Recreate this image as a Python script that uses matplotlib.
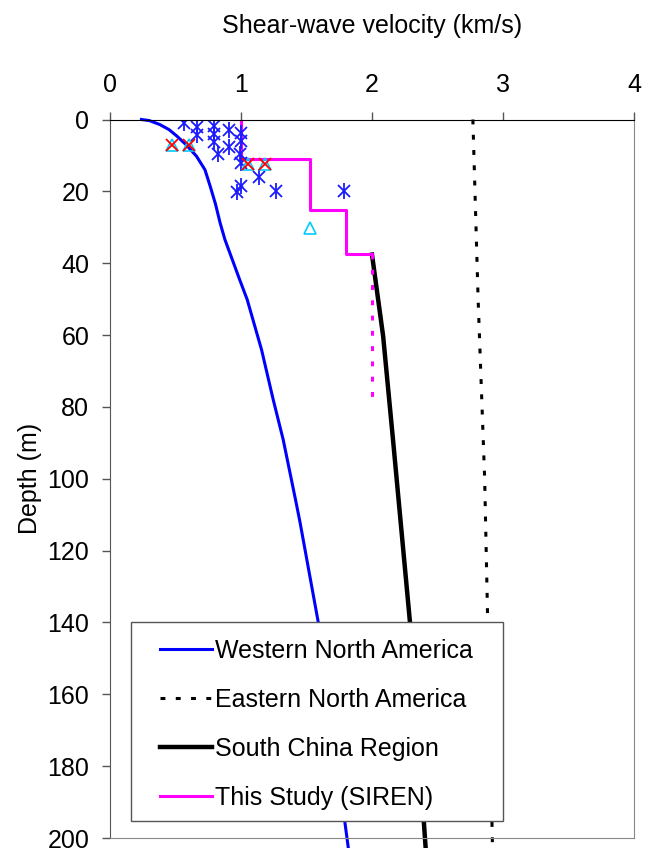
import matplotlib
matplotlib.use('Agg')
import matplotlib.pyplot as plt
from matplotlib.patches import Rectangle

plt.rcParams['font.family'] = ['Liberation Sans', 'DejaVu Sans']

# shear-wave velocity (km/s) vs depth (m)
wna_vs = [0.24, 0.30, 0.38, 0.45, 0.51, 0.58, 0.66, 0.725, 0.765, 0.805, 0.84, 0.877, 0.99, 1.047, 1.157, 1.246, 1.322, 1.416, 1.45, 1.59, 1.82]
wna_d = [0, 0.3, 1.4, 2.8, 4.6, 7.0, 10.2, 14.0, 18.6, 23.5, 28.7, 33.4, 44.6, 50.1, 64.1, 78.0, 89.1, 105.8, 112, 140, 203]

ena_vs = [2.77, 2.81, 2.86, 2.92]
ena_d = [0, 50, 100, 203]

scr_vs = [2.00, 2.085, 2.16, 2.29, 2.41]
scr_d = [37.6, 60.3, 89, 140, 203]

siren_vs = [1.0, 1.0, 1.527, 1.527, 1.80, 1.80, 2.0]
siren_d = [0, 11.0, 11.0, 25.1, 25.1, 37.5, 37.5]
siren_ext_vs = [2.0, 2.0]
siren_ext_d = [37.5, 79.0]

star_vs = [0.565, 0.667, 0.667, 0.795, 0.795, 0.795, 0.826, 0.91, 0.91, 0.997, 0.997, 0.99,
           0.997, 1.139, 0.997, 0.966, 1.27, 1.79]
star_d = [0.9, 2.1, 4.3, 1.8, 4.0, 6.3, 9.7, 2.8, 7.7, 3.7, 6.0, 9.7,
          12.1, 16.1, 18.6, 20.1, 20.0, 20.0]

tri_vs = [0.47, 0.605, 1.055, 1.18, 1.527]
tri_d = [7.1, 7.1, 12.3, 12.3, 30.2]

cross_vs = [0.47, 0.605, 1.055, 1.18]
cross_d = [7.1, 7.1, 12.3, 12.3]

fig = plt.figure(figsize=(6.5, 8.48), dpi=100)
ax = fig.add_axes([110/650, 10/848, 524/650, 718.5/848])

ax.plot(wna_vs, wna_d, color='#0000ff', lw=2.2, clip_on=False, label='Western North America')
ax.plot(ena_vs, ena_d, color='black', lw=2.2, dashes=(1.6, 3.4), clip_on=False, label='Eastern North America')
ax.plot(scr_vs, scr_d, color='black', lw=3.2, clip_on=False, label='South China Region')
ax.plot(siren_vs, siren_d, color='#ff00ff', lw=2.2, label='This Study (SIREN)')
ax.plot(siren_ext_vs, siren_ext_d, color='#ff00ff', lw=2.2, dashes=(1.6, 3.4))

ax.plot(star_vs, star_d, ls='none', marker='x', ms=8.5, mew=1.3, color='#1a1aff')
ax.plot(star_vs, star_d, ls='none', marker='|', ms=11, mew=1.3, color='#1a1aff')
ax.plot(tri_vs, tri_d, ls='none', marker='^', ms=9, mfc='none', mec='#00ccff', mew=1.2)
ax.plot(cross_vs, cross_d, ls='none', marker='x', ms=8, mew=1.3, color='#ff0000')

ax.set_xlim(0, 4)
ax.set_ylim(200, 0)
ax.set_xticks([0, 1, 2, 3, 4])
ax.set_yticks(range(0, 201, 20))
ax.xaxis.tick_top()
ax.xaxis.set_label_position('top')
ax.set_xlabel('Shear-wave velocity (km/s)', fontsize=18, labelpad=29)
ax.set_ylabel('Depth (m)', fontsize=18, labelpad=4)
ax.tick_params(axis='x', direction='out', length=6, width=1, pad=10, labelsize=18, color='#555555')
ax.tick_params(axis='y', direction='out', length=6, width=1, pad=9, labelsize=18, color='#555555')
ax.spines['top'].set_color('black')
ax.spines['left'].set_color('#555555')
ax.spines['right'].set_color('#888888')
ax.spines['bottom'].set_color('#888888')

# legend box drawn separately so the padding matches
box = Rectangle((0.040, 0.023), 0.710, 0.277, transform=ax.transAxes,
                facecolor='white', edgecolor='#555555', lw=1, zorder=4.5, clip_on=False)
ax.add_patch(box)
leg = ax.legend(loc='upper left', bbox_to_anchor=(0.0954, 0.277), frameon=False,
                fontsize=18, borderpad=0, borderaxespad=0, handlelength=2.08,
                handletextpad=0.12, labelspacing=1.0)
leg.set_zorder(5)

fig.savefig('out.png', dpi=100)
